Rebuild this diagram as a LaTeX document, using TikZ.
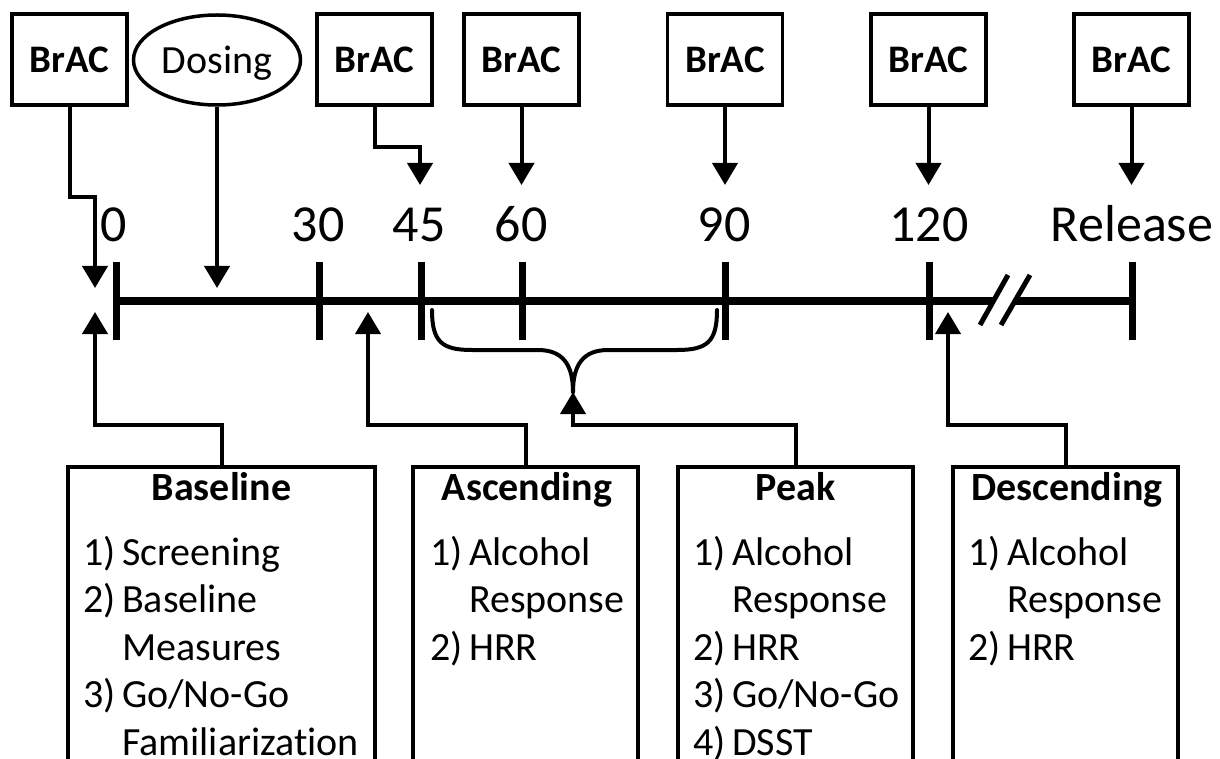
\documentclass[tikz,border=0pt]{standalone}
\usepackage{fontspec}
\setmainfont{Carlito}[Ligatures=CommonOff]
\usetikzlibrary{arrows.meta,shapes.geometric}
\newcommand\numlbl[1]{\makebox[39pt][l]{#1}}
\begin{document}
\begin{tikzpicture}[x=1pt,y=-1pt,
  brac/.style={draw,line width=3.5pt,minimum width=115pt,minimum height=91pt,
    inner sep=0pt,font=\fontsize{39}{47}\selectfont\bfseries},
  dose/.style={draw,ellipse,line width=3.5pt,minimum width=167pt,minimum height=90pt,
    inner sep=0pt,text depth=0pt,font=\fontsize{40}{48}\selectfont},
  arr/.style={line width=4pt,-{Triangle[width=25pt,length=22pt]}},
  link/.style={line width=4pt},
  tickmark/.style={line width=7pt},
  axis/.style={line width=8pt},
  tlabel/.style={anchor=base,inner sep=0pt,font=\fontsize{52}{60}\selectfont},
  phase/.style={draw,line width=3.5pt,anchor=north,minimum height=420pt,inner sep=0pt},
  ptitle/.style={anchor=base,inner sep=0pt,font=\fontsize{40}{48}\selectfont\bfseries},
  plist/.style={anchor=base west,inner sep=0pt,font=\fontsize{40}{47.5}\selectfont},
]
\clip (0,0) rectangle (1220,759);

% ---- time axis ----
\foreach \n/\x in {t0/116,t30/319,t45/421,t60/522,t90/725,t120/929,tr/1132}
  \coordinate (\n) at (\x,301);
\draw[axis] (t0) -- (994,301) coordinate (brkL);
\draw[axis] (1015,301) coordinate (brkR) -- (tr);
\foreach \n in {t0,t30,t45,t60,t90,t120,tr}
  \draw[tickmark] ([yshift=39pt]\n) -- ([yshift=-39pt]\n);
% axis break
\draw[line width=5pt] (980,325) -- (1008,275);
\draw[line width=5pt] (1001,325) -- (1030,275);

% ---- time labels ----
\node[tlabel] (l0)   at (114,242) {0};
\node[tlabel] (l30)  at (318,242) {30};
\node[tlabel] (l45)  at (419,242) {45};
\node[tlabel] (l60)  at (521,242) {60};
\node[tlabel] (l90)  at (724,242) {90};
\node[tlabel] (l120) at (929,242) {120};
\node[tlabel] (lr)   at (1132,242) {Release};

% ---- BrAC readings and dosing ----
\node[brac] (b0)   at (69.5,59.5)   {BrAC};
\node[dose] (dose) at (217,60)      {Dosing};
\node[brac] (b45)  at (374.5,59.5)  {BrAC};
\node[brac] (b60)  at (521.5,59.5)  {BrAC};
\node[brac] (b90)  at (725,59.5)    {BrAC};
\node[brac] (b120) at (928.5,59.5)  {BrAC};
\node[brac] (br)   at (1131.5,59.5) {BrAC};

\coordinate (d0)   at (95,288);
\coordinate (ddose) at (217,288);
\coordinate (d45)  at (420,185);
\coordinate (d60)  at (521.5,185);
\coordinate (d90)  at (725,185);
\coordinate (d120) at (928.5,185);
\coordinate (dr)   at (1131.5,185);

\draw[arr] (b0.south) -- ++(0,90) -| (d0);
\draw[arr] (dose.south) -- (ddose);
\draw[arr] (b45.south) -- ++(0,40) -| (d45);
\draw[arr] (b60.south) -- (d60);
\draw[arr] (b90.south) -- (d90);
\draw[arr] (b120.south) -- (d120);
\draw[arr] (br.south) -- (dr);

% ---- phase boxes ----
\node[phase,minimum width=307pt] (pb) at (221.5,465) {};
\node[phase,minimum width=225pt] (pa) at (525.5,465) {};
\node[phase,minimum width=235pt] (pp) at (795.5,465) {};
\node[phase,minimum width=225pt] (pd) at (1065.5,465) {};

\node[ptitle] (tb) at (221.5,500)  {Baseline};
\node[ptitle] (ta) at (527,500)    {Ascending};
\node[ptitle] (tp) at (795.5,500)  {Peak};
\node[ptitle] (td) at (1067,500)   {Descending};

\node[plist] (lb) at (83,565) {\begin{tabular}[t]{@{}l@{}}
  \numlbl{1)}Screening\\
  \numlbl{2)}Baseline\\
  \numlbl{}Measures\\
  \numlbl{3)}Go/No-Go\\
  \numlbl{}Familiarization
\end{tabular}};
\node[plist] (la) at (430,565) {\begin{tabular}[t]{@{}l@{}}
  \numlbl{1)}Alcohol\\
  \numlbl{}Response\\
  \numlbl{2)}HRR
\end{tabular}};
\node[plist] (lp) at (693,565) {\begin{tabular}[t]{@{}l@{}}
  \numlbl{1)}Alcohol\\
  \numlbl{}Response\\
  \numlbl{2)}HRR\\
  \numlbl{3)}Go/No-Go\\
  \numlbl{4)}DSST
\end{tabular}};
\node[plist] (ld) at (968,565) {\begin{tabular}[t]{@{}l@{}}
  \numlbl{1)}Alcohol\\
  \numlbl{}Response\\
  \numlbl{2)}HRR
\end{tabular}};

% ---- phase connectors ----
\coordinate (ub)  at (95,312);
\coordinate (ua)  at (368,312);
\coordinate (up)  at (573,392);
\coordinate (ud)  at (948,312);

\draw[arr] (pb.north) -- ++(0,-40) -| (ub);
\draw[arr] (pa.north) -- ++(0,-40) -| (ua);
\draw[arr] (pp.north) -- ++(0,-40) -| (up);
\draw[arr] (pd.north) -- ++(0,-40) -| (ud);

% brace spanning 45 to 90 min
\draw[link,line cap=round] (432,310) .. controls (432,342) and (442,350) .. (472,350)
  -- (538,350) .. controls (563,350) and (573,365) .. (up);
\draw[link,line cap=round] (717,310) .. controls (717,342) and (707,350) .. (677,350)
  -- (608,350) .. controls (583,350) and (573,365) .. (up);
\end{tikzpicture}
\end{document}
